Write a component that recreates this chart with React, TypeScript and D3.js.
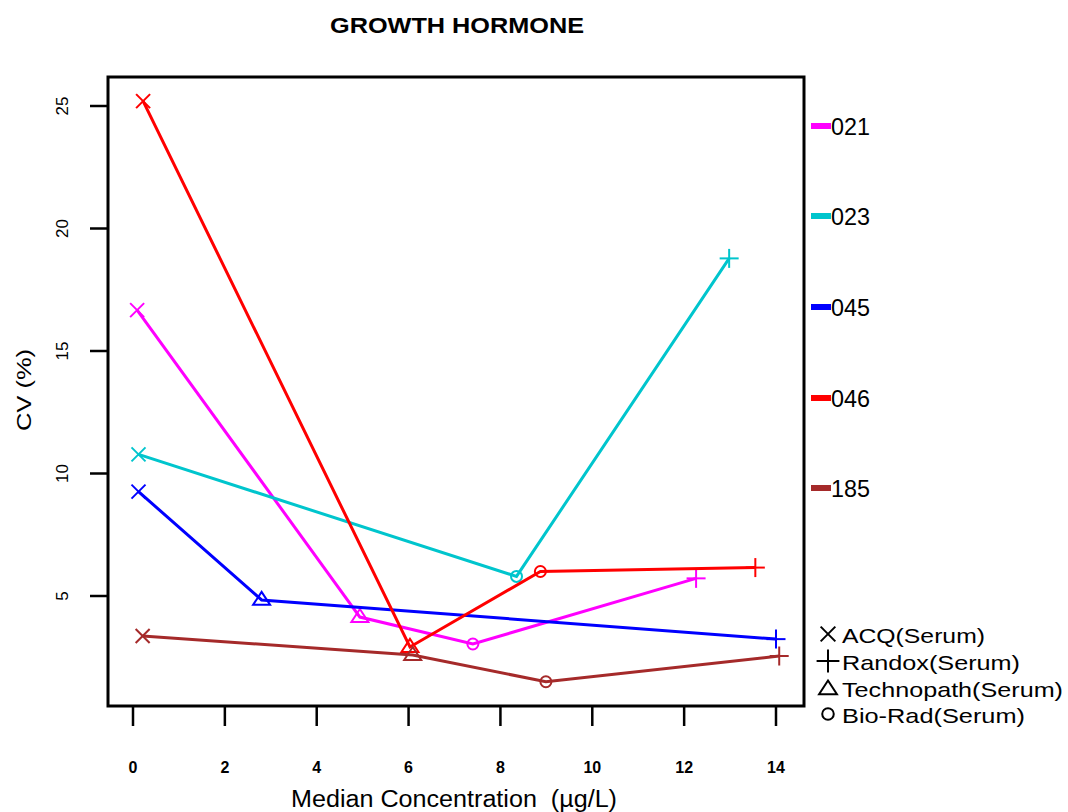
import React from "react";
import * as d3 from "d3";

const seriesNames = ["021", "023", "045", "046", "185"];
const seriesColors = ["#ff00ff", "#00c5cd", "#0000ff", "#ff0000", "#a52a2a"];
// points per series: [x, cv, methodIndex] ; methods: 0 ACQ x, 1 Randox +, 2 Technopath triangle, 3 Bio-Rad circle
const s021: [number, number, number][] = [[0.09, 16.67, 0], [4.94, 4.14, 2], [7.40, 3.04, 3], [12.26, 5.72, 1]];
const s023: [number, number, number][] = [[0.12, 10.78, 0], [8.35, 5.80, 3], [12.98, 18.78, 1]];
const s045: [number, number, number][] = [[0.12, 9.26, 0], [2.80, 4.84, 2], [14.0, 3.24, 1]];
const s046: [number, number, number][] = [[0.22, 25.2, 0], [6.03, 2.92, 2], [8.87, 6.0, 3], [13.55, 6.16, 1]];
const s185: [number, number, number][] = [[0.21, 3.37, 0], [6.09, 2.59, 2], [8.99, 1.50, 3], [14.07, 2.55, 1]];
const allSeries = [s021, s023, s045, s046, s185];
const methodNames = ["ACQ(Serum)", "Randox(Serum)", "Technopath(Serum)", "Bio-Rad(Serum)"];
const legendMethodOrder = [0, 1, 2, 3];
const xTicks = [0, 2, 4, 6, 8, 10, 12, 14];
const yTicks = [5, 10, 15, 20, 25];

const W = 1068, H = 812;
const box = { l: 108, r: 804, t: 77, b: 706 };
const x = d3.scaleLinear().domain([0, 14]).range([133, 776]);
const y = d3.scaleLinear().domain([5, 25]).range([596, 106]);

function Marker({ m, cx, cy, color, k = 1 }: { m: number; cx: number; cy: number; color: string; k?: number }) {
  const sw = 2;
  if (m === 0) {
    const s = 7 * k;
    return (
      <g stroke={color} strokeWidth={sw} fill="none">
        <line x1={cx - s} y1={cy - s} x2={cx + s} y2={cy + s} />
        <line x1={cx - s} y1={cy + s} x2={cx + s} y2={cy - s} />
      </g>
    );
  }
  if (m === 1) {
    const r = 9.5 * k;
    return (
      <g stroke={color} strokeWidth={sw} fill="none">
        <line x1={cx - r} y1={cy} x2={cx + r} y2={cy} />
        <line x1={cx} y1={cy - r} x2={cx} y2={cy + r} />
      </g>
    );
  }
  if (m === 2) {
    const hw = 8.5 * k;
    const h = 13 * k;
    const pts = [[cx, cy - h * 0.62], [cx + hw, cy + h * 0.38], [cx - hw, cy + h * 0.38]];
    return <polygon points={pts.map((p) => p.join(",")).join(" ")} stroke={color} strokeWidth={sw} fill="none" />;
  }
  return <circle cx={cx} cy={cy} r={5.5 * k} stroke={color} strokeWidth={sw} fill="none" />;
}

export default function App() {
  const line = d3
    .line<[number, number, number]>()
    .x((d) => x(d[0]))
    .y((d) => y(d[1]));
  const font = "Liberation Sans, Arial, sans-serif";
  const legendYs = [126, 216, 307, 398, 488];
  const methodYs = [634, 661, 688, 714];
  const methodWidths = [143, 178, 221, 183];
  return (
    <svg width={W} height={H} style={{ position: "absolute", left: 0, top: 0, background: "#fff" }} fontFamily={font}>
      <rect x={0} y={0} width={W} height={H} fill="#fff" />
      <text x={330} y={33} fontSize={22} fontWeight="bold" textLength={254} lengthAdjust="spacingAndGlyphs">GROWTH HORMONE</text>
      {/* box */}
      <rect x={box.l} y={box.t} width={box.r - box.l} height={box.b - box.t} fill="none" stroke="#000" strokeWidth={3} />
      {/* x ticks */}
      {xTicks.map((t) => (
        <g key={"x" + t}>
          <line x1={x(t)} x2={x(t)} y1={box.b} y2={box.b + 20} stroke="#000" strokeWidth={2.5} />
          <text x={x(t)} y={773} textAnchor="middle" fontSize={16} fontWeight="bold">{t}</text>
        </g>
      ))}
      {yTicks.map((t) => (
        <g key={"y" + t}>
          <line x1={box.l - 18} x2={box.l} y1={y(t)} y2={y(t)} stroke="#000" strokeWidth={2.5} />
          <text transform={`translate(68,${y(t)}) rotate(-90)`} textAnchor="middle" fontSize={17}>{t}</text>
        </g>
      ))}
      <text x={291} y={807} fontSize={23} textLength={326} lengthAdjust="spacingAndGlyphs" style={{ whiteSpace: "pre" }}>Median Concentration  (µg/L)</text>
      <text transform="translate(31,431) rotate(-90)" fontSize={21} textLength={82} lengthAdjust="spacingAndGlyphs">CV (%)</text>
      {/* series */}
      {allSeries.map((s, i) => {
        const sorted = [...s].sort((a, b) => a[0] - b[0]);
        return (
          <g key={"s" + i}>
            <path d={line(sorted) || ""} fill="none" stroke={seriesColors[i]} strokeWidth={3} />
            {s.map((p, j) => (
              <Marker key={j} m={p[2]} cx={x(p[0])} cy={y(p[1])} color={seriesColors[i]} />
            ))}
          </g>
        );
      })}
      {/* series legend */}
      {seriesNames.map((n, i) => (
        <g key={"l" + n}>
          <line x1={811} x2={831} y1={legendYs[i]} y2={legendYs[i]} stroke={seriesColors[i]} strokeWidth={6} />
          <text x={831} y={legendYs[i] + 9} fontSize={24} textLength={39} lengthAdjust="spacingAndGlyphs">{n}</text>
        </g>
      ))}
      {legendMethodOrder.map((m, i) => (
        <g key={"m" + m}>
          <Marker m={m} cx={828} cy={methodYs[i] - (m === 2 ? -1 : 0)} color="#000" k={m === 1 ? 1.2 : 1.05} />
          <text x={842} y={methodYs[i] + 9} fontSize={21} textLength={methodWidths[m]} lengthAdjust="spacingAndGlyphs">{methodNames[m]}</text>
        </g>
      ))}
    </svg>
  );
}
